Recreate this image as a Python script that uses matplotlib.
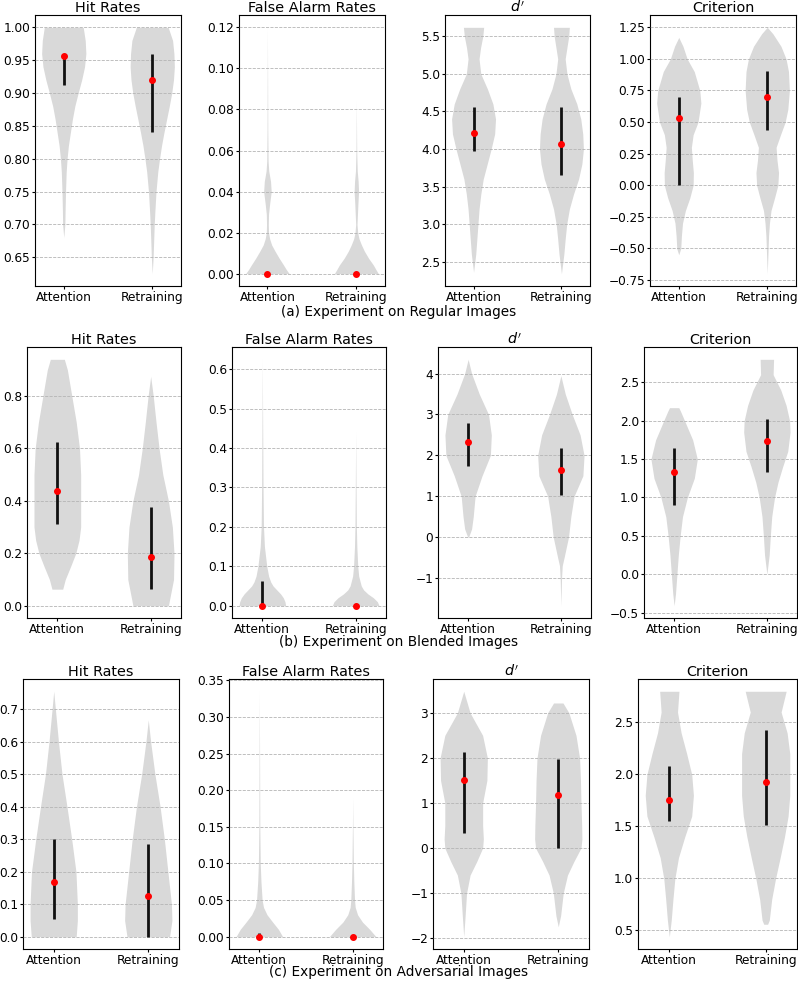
import matplotlib
matplotlib.use("Agg")
import matplotlib.pyplot as plt
import numpy as np

# group names on the x axis
groups = ["Attention", "Retraining"]
titles = ["Hit Rates", "False Alarm Rates", r"$d'$", "Criterion"]
captions = ["(a) Experiment on Regular Images",
            "(b) Experiment on Blended Images",
            "(c) Experiment on Adversarial Images"]

# violin outlines: (value, relative width 0..1)
# ---- (a) regular images
a_hit_att = [(0.68, 0.0), (0.70, 0.05), (0.72, 0.06), (0.75, 0.08), (0.78, 0.11), (0.80, 0.15),
             (0.82, 0.21), (0.84, 0.30), (0.86, 0.39), (0.88, 0.50), (0.90, 0.65), (0.92, 0.81),
             (0.94, 0.94), (0.96, 1.0), (0.98, 0.97), (1.00, 0.88)]
a_hit_ret = [(0.625, 0.0), (0.65, 0.04), (0.67, 0.06), (0.70, 0.09), (0.72, 0.12), (0.75, 0.17),
             (0.78, 0.25), (0.80, 0.33), (0.82, 0.42), (0.84, 0.53), (0.86, 0.65), (0.88, 0.77),
             (0.90, 0.88), (0.92, 0.96), (0.94, 1.0), (0.96, 0.98), (0.98, 0.92), (1.00, 0.72)]
a_fa_att = [(0.0, 0.98), (0.002, 0.85), (0.0043, 0.72), (0.0075, 0.53), (0.011, 0.34), (0.014, 0.19),
            (0.017, 0.10), (0.02, 0.05), (0.024, 0.04), (0.029, 0.05), (0.034, 0.10), (0.04, 0.17),
            (0.045, 0.14), (0.05, 0.06), (0.055, 0.03), (0.07, 0.015), (0.09, 0.01), (0.12, 0.0)]
a_fa_ret = [(0.0, 0.99), (0.002, 0.88), (0.0043, 0.76), (0.0075, 0.55), (0.011, 0.36), (0.014, 0.23),
            (0.017, 0.12), (0.02, 0.06), (0.024, 0.03), (0.029, 0.05), (0.034, 0.07), (0.04, 0.10),
            (0.045, 0.08), (0.05, 0.04), (0.06, 0.015), (0.084, 0.0)]
a_dp_att = [(2.36, 0.0), (2.6, 0.10), (2.8, 0.15), (3.0, 0.20), (3.2, 0.25), (3.4, 0.33), (3.6, 0.44),
            (3.8, 0.62), (4.0, 0.80), (4.2, 0.96), (4.4, 1.0), (4.6, 0.88), (4.8, 0.63), (5.0, 0.33),
            (5.2, 0.25), (5.35, 0.32), (5.5, 0.42), (5.62, 0.46)]
a_dp_ret = [(2.34, 0.0), (2.6, 0.11), (2.8, 0.17), (3.0, 0.24), (3.2, 0.36), (3.4, 0.55), (3.6, 0.78),
            (3.8, 0.93), (4.0, 1.0), (4.2, 0.97), (4.4, 0.88), (4.6, 0.70), (4.8, 0.43), (5.0, 0.25),
            (5.2, 0.17), (5.35, 0.25), (5.5, 0.33), (5.62, 0.36)]
a_cr_att = [(-0.55, 0.0), (-0.5, 0.09), (-0.4, 0.12), (-0.3, 0.17), (-0.2, 0.30), (-0.1, 0.50),
            (0.0, 0.65), (0.1, 0.66), (0.2, 0.61), (0.3, 0.57), (0.4, 0.65), (0.5, 0.87), (0.65, 1.0),
            (0.75, 0.95), (0.9, 0.70), (1.0, 0.38), (1.1, 0.19), (1.17, 0.0)]
a_cr_ret = [(-0.7, 0.0), (-0.6, 0.02), (-0.5, 0.04), (-0.4, 0.06), (-0.3, 0.10), (-0.2, 0.17),
            (-0.1, 0.33), (0.0, 0.48), (0.1, 0.51), (0.2, 0.44), (0.3, 0.40), (0.4, 0.60), (0.5, 0.81),
            (0.6, 0.93), (0.75, 1.0), (0.9, 0.96), (1.0, 0.85), (1.1, 0.62), (1.2, 0.25), (1.25, 0.0)]

# ---- (b) blended images
b_hit_att = [(0.063, 0.23), (0.1, 0.34), (0.15, 0.57), (0.2, 0.79), (0.25, 0.93), (0.3, 1.0),
             (0.4, 1.0), (0.5, 1.0), (0.6, 0.95), (0.7, 0.81), (0.8, 0.62), (0.9, 0.43), (0.94, 0.30)]
b_hit_ret = [(0.0, 0.76), (0.05, 0.87), (0.1, 0.98), (0.2, 1.0), (0.3, 0.93), (0.4, 0.76),
             (0.5, 0.52), (0.6, 0.36), (0.7, 0.23), (0.8, 0.11), (0.875, 0.0)]
b_fa_att = [(0.0, 1.0), (0.01, 0.97), (0.02, 0.90), (0.03, 0.78), (0.04, 0.62), (0.05, 0.46),
            (0.06, 0.36), (0.075, 0.27), (0.1, 0.19), (0.15, 0.09), (0.2, 0.05), (0.3, 0.03),
            (0.4, 0.02), (0.5, 0.01), (0.625, 0.0)]
b_fa_ret = [(0.0, 1.0), (0.01, 0.93), (0.02, 0.76), (0.03, 0.52), (0.04, 0.34), (0.05, 0.24),
            (0.075, 0.13), (0.1, 0.09), (0.15, 0.05), (0.2, 0.03), (0.3, 0.015), (0.44, 0.0)]
b_dp_att = [(0.0, 0.02), (0.2, 0.15), (0.5, 0.22), (1.0, 0.30), (1.5, 0.60), (2.0, 0.96),
            (2.5, 1.0), (3.0, 0.88), (3.5, 0.48), (4.0, 0.15), (4.35, 0.0)]
b_dp_ret = [(-1.68, 0.0), (-1.0, 0.03), (-0.7, 0.06), (-0.5, 0.14), (0.0, 0.33), (0.5, 0.43),
            (1.0, 0.57), (1.5, 0.95), (2.0, 1.0), (2.5, 0.83), (3.0, 0.49), (3.5, 0.19), (3.95, 0.0)]
b_cr_att = [(-0.41, 0.0), (-0.25, 0.06), (0.0, 0.12), (0.25, 0.18), (0.5, 0.26), (0.75, 0.36),
            (1.0, 0.57), (1.25, 0.87), (1.5, 1.0), (1.75, 0.80), (2.0, 0.45), (2.12, 0.28), (2.17, 0.2)]
b_cr_ret = [(0.0, 0.0), (0.25, 0.10), (0.5, 0.15), (0.75, 0.21), (1.0, 0.33), (1.2, 0.48),
            (1.4, 0.68), (1.6, 0.90), (1.85, 1.0), (2.0, 0.98), (2.2, 0.83), (2.4, 0.60), (2.6, 0.27),
            (2.8, 0.29)]

# ---- (c) adversarial images
c_hit_att = [(0.0, 0.95), (0.05, 1.0), (0.1, 1.0), (0.2, 0.94), (0.3, 0.76), (0.4, 0.56),
             (0.5, 0.35), (0.6, 0.20), (0.7, 0.07), (0.755, 0.0)]
c_hit_ret = [(0.0, 0.90), (0.05, 1.0), (0.1, 0.98), (0.2, 0.83), (0.3, 0.68), (0.4, 0.50),
             (0.5, 0.28), (0.6, 0.10), (0.667, 0.0)]
c_fa_att = [(0.0, 1.0), (0.01, 0.82), (0.02, 0.57), (0.03, 0.33), (0.04, 0.18), (0.05, 0.12),
            (0.075, 0.07), (0.1, 0.04), (0.15, 0.02), (0.25, 0.01), (0.335, 0.0)]
c_fa_ret = [(0.0, 1.0), (0.01, 0.73), (0.02, 0.42), (0.03, 0.21), (0.04, 0.11), (0.05, 0.08),
            (0.075, 0.05), (0.1, 0.03), (0.15, 0.01), (0.19, 0.0)]
c_dp_att = [(-1.97, 0.0), (-1.5, 0.06), (-1.0, 0.12), (-0.6, 0.27), (-0.3, 0.55), (0.0, 0.80),
            (0.2, 0.83), (0.5, 0.80), (1.0, 0.80), (1.5, 0.98), (2.0, 1.0), (2.5, 0.80), (3.0, 0.27),
            (3.48, 0.0)]
c_dp_ret = [(-1.75, 0.0), (-1.5, 0.10), (-1.0, 0.21), (-0.6, 0.39), (-0.3, 0.66), (0.0, 0.96),
            (0.2, 1.0), (0.5, 0.99), (1.0, 0.96), (1.5, 0.94), (2.0, 0.90), (2.5, 0.75), (3.0, 0.45),
            (3.22, 0.20)]
c_cr_att = [(0.44, 0.0), (0.6, 0.08), (0.8, 0.15), (1.0, 0.23), (1.2, 0.38), (1.4, 0.64),
            (1.6, 0.93), (1.8, 1.0), (2.0, 0.93), (2.2, 0.72), (2.4, 0.49), (2.6, 0.34), (2.8, 0.40)]
c_cr_ret = [(0.56, 0.08), (0.6, 0.15), (0.8, 0.25), (1.0, 0.41), (1.2, 0.60), (1.4, 0.78),
            (1.6, 0.93), (1.8, 1.0), (2.0, 1.0), (2.2, 1.0), (2.4, 0.89), (2.6, 0.64), (2.8, 0.85)]

# quartile bars (q1, q3) and medians, [Attention, Retraining]
a_hit_q1, a_hit_med, a_hit_q3 = [0.912, 0.84], [0.956, 0.92], [0.957, 0.96]
a_fa_q1, a_fa_med, a_fa_q3 = [0.0, 0.0], [0.0, 0.0], [0.0, 0.0]
a_dp_q1, a_dp_med, a_dp_q3 = [3.98, 3.65], [4.21, 4.06], [4.56, 4.56]
a_cr_q1, a_cr_med, a_cr_q3 = [0.0, 0.435], [0.53, 0.70], [0.70, 0.905]

b_hit_q1, b_hit_med, b_hit_q3 = [0.31, 0.062], [0.437, 0.187], [0.625, 0.375]
b_fa_q1, b_fa_med, b_fa_q3 = [0.0, 0.0], [0.0, 0.0], [0.063, 0.0]
b_dp_q1, b_dp_med, b_dp_q3 = [1.75, 1.04], [2.32, 1.65], [2.80, 2.17]
b_cr_q1, b_cr_med, b_cr_q3 = [0.90, 1.33], [1.33, 1.74], [1.65, 2.02]

c_hit_q1, c_hit_med, c_hit_q3 = [0.055, 0.0], [0.167, 0.125], [0.30, 0.285]
c_fa_q1, c_fa_med, c_fa_q3 = [0.0, 0.0], [0.0, 0.0], [0.005, 0.0]
c_dp_q1, c_dp_med, c_dp_q3 = [0.33, 0.0], [1.52, 1.18], [2.13, 1.98]
c_cr_q1, c_cr_med, c_cr_q3 = [1.55, 1.51], [1.75, 1.93], [2.08, 2.43]

# y tick labels per panel
a_ticks = [np.arange(0.65, 1.001, 0.05), np.arange(0, 0.121, 0.02),
           np.arange(2.5, 5.51, 0.5), np.arange(-0.75, 1.26, 0.25)]
b_ticks = [np.arange(0, 0.81, 0.2), np.arange(0, 0.61, 0.1),
           np.arange(-1, 4.1, 1), np.arange(-0.5, 2.51, 0.5)]
c_ticks = [np.arange(0, 0.71, 0.1), np.arange(0, 0.351, 0.05),
           np.arange(-2, 3.1, 1), np.arange(0.5, 2.51, 0.5)]

rows = [
    ([(a_hit_att, a_hit_ret), (a_fa_att, a_fa_ret), (a_dp_att, a_dp_ret), (a_cr_att, a_cr_ret)],
     [(a_hit_q1, a_hit_med, a_hit_q3), (a_fa_q1, a_fa_med, a_fa_q3),
      (a_dp_q1, a_dp_med, a_dp_q3), (a_cr_q1, a_cr_med, a_cr_q3)], a_ticks),
    ([(b_hit_att, b_hit_ret), (b_fa_att, b_fa_ret), (b_dp_att, b_dp_ret), (b_cr_att, b_cr_ret)],
     [(b_hit_q1, b_hit_med, b_hit_q3), (b_fa_q1, b_fa_med, b_fa_q3),
      (b_dp_q1, b_dp_med, b_dp_q3), (b_cr_q1, b_cr_med, b_cr_q3)], b_ticks),
    ([(c_hit_att, c_hit_ret), (c_fa_att, c_fa_ret), (c_dp_att, c_dp_ret), (c_cr_att, c_cr_ret)],
     [(c_hit_q1, c_hit_med, c_hit_q3), (c_fa_q1, c_fa_med, c_fa_q3),
      (c_dp_q1, c_dp_med, c_dp_q3), (c_cr_q1, c_cr_med, c_cr_q3)], c_ticks),
]

W, H = 798, 982
# axes boxes in pixels: (left, right) per column, (top, bottom) per row
row_tb = [(15, 286), (347, 618), (679, 949)]
col_lr = [[(35, 181), (239, 385), (445, 590), (650, 796)],
          [(27, 181), (232, 386), (438, 591), (644, 797)],
          [(23, 179), (229, 383), (433, 589), (638, 797)]]
caption_y = [312, 642, 972]

fig = plt.figure(figsize=(W / 100, H / 100), dpi=100)

for r, (profiles, stats, ticks) in enumerate(rows):
    top, bot = row_tb[r]
    for c in range(4):
        left, right = col_lr[r][c]
        ax = fig.add_axes([left / W, 1 - bot / H, (right - left) / W, (bot - top) / H])
        for k, prof in enumerate(profiles[c]):
            pos = k + 1
            y = np.array([p[0] for p in prof])
            w = np.array([p[1] for p in prof]) * 0.25
            ax.fill_betweenx(y, pos - w, pos + w, color='#d9d9d9', lw=0, zorder=1)
        q1, med, q3 = stats[c]
        ax.vlines([1, 2], q1, q3, color='#111111', lw=2.0, zorder=3)
        ax.plot([1, 2], med, 'o', color='red', ms=4, zorder=4)
        ax.set_yticks(ticks[c])
        ax.set_xticks([1, 2])
        ax.set_xticklabels(groups)
        ax.yaxis.grid(True, linestyle='--', color='#b4b4b4', lw=0.6, zorder=2)
        ax.set_axisbelow(False)
        ax.tick_params(labelsize=8.7, length=2, pad=1.5)
        ax.set_title(titles[c], fontsize=10.4, pad=2)
    fig.text(0.5, 1 - caption_y[r] / H, captions[r], ha='center', va='center', fontsize=9.8)

fig.savefig("out.png", dpi=100)
